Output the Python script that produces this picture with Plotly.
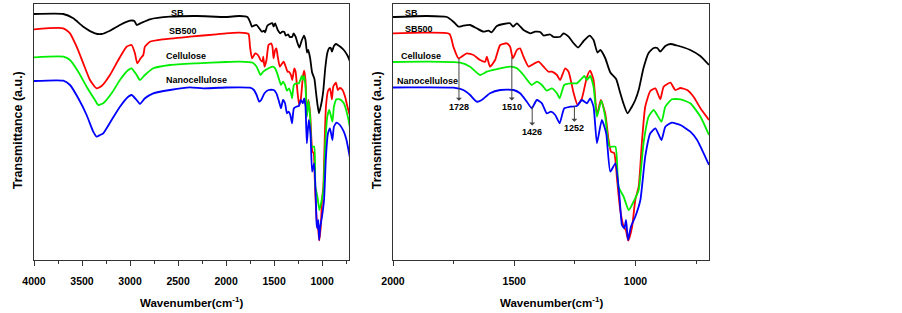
import plotly.graph_objects as go

# ---------------- data (transmittance, arbitrary units) ----------------
sb_wn = [4000, 3695, 3591, 3487, 3365, 3296, 3209, 3105, 3001, 2955, 2931, 2879, 2793, 2585, 2307,
         2000, 1861, 1778, 1751, 1730, 1710, 1682, 1655, 1627, 1606, 1593, 1572, 1544, 1517, 1505,
         1489, 1462, 1434, 1414, 1393, 1379, 1352, 1338, 1310, 1297, 1276, 1256, 1237, 1214, 1189,
         1173, 1157, 1145, 1125, 1104, 1080, 1063, 1049, 1033, 1015, 1001, 987, 967, 946, 925,
         910, 898, 877, 856, 829, 801, 774, 733, 697]
sb_t = [246, 246, 241.7, 233.3, 226.7, 226, 229.3, 235, 239.3, 239, 235, 237.3, 240.7, 243.3, 244,
        243, 244, 243, 238.3, 233.3, 234.3, 235, 231.7, 228.3, 229.3, 227.7, 234, 236, 236.7, 233.3,
        236.7, 230, 226.7, 228.3, 228, 224.5, 225.5, 223, 223.3, 226.7, 223.3, 217, 212.5, 219, 224.3,
        220, 207.5, 210, 202, 187.5, 181, 167, 156, 146.7, 153.3, 160, 170, 192, 207, 212,
        212, 208.3, 214, 216, 214.5, 212.5, 210, 204, 195]

sb500_wn = [4000, 3695, 3625, 3556, 3487, 3417, 3348, 3296, 3209, 3122, 3036, 2984, 2949, 2925, 2890,
            2862, 2845, 2793, 2654, 2377, 2099, 2000, 1861, 1767, 1751, 1730, 1696, 1668, 1641, 1620,
            1613, 1600, 1579, 1558, 1531, 1517, 1506, 1489, 1476, 1462, 1441, 1428, 1400, 1379, 1359,
            1345, 1324, 1311, 1290, 1276, 1255, 1239, 1221, 1200, 1187, 1173, 1159, 1143, 1125, 1111,
            1101, 1088, 1076, 1063, 1049, 1040, 1030, 1014, 1001, 987, 973, 960, 939, 918, 898,
            884, 856, 836, 815, 787, 760, 733, 697]
sb500_t = [230.7, 231.7, 226.7, 213.3, 196.7, 180, 171.7, 174, 185, 200, 213.3, 215, 206.7, 196.7, 201.7,
           205, 213.3, 218.3, 220.7, 223.3, 225.7, 226.7, 227.3, 226, 213.3, 201.7, 206.7, 205, 200, 198.3,
           203.3, 193.3, 200, 215, 216.7, 213.3, 201.7, 210, 211.7, 203.3, 193.3, 195, 198.3, 193.3, 188.3,
           188.3, 185, 180, 191.7, 188.3, 166.7, 155, 161.7, 183.3, 189.3, 180, 145, 160, 146.7, 120,
           108.3, 107, 80, 50, 33.3, 30, 19.5, 33.3, 60, 73.3, 120, 153.3, 169, 171.7, 160.7,
           173.3, 177.3, 170, 172, 170, 163, 152, 140]

cel_wn = [4000, 3695, 3625, 3539, 3452, 3365, 3331, 3279, 3192, 3105, 3019, 2984, 2931, 2897, 2845,
          2758, 2585, 2307, 2000, 1861, 1723, 1682, 1641, 1613, 1558, 1517, 1489, 1462, 1441, 1428,
          1407, 1386, 1366, 1345, 1324, 1313, 1294, 1269, 1242, 1221, 1211, 1200, 1187, 1173, 1159,
          1141, 1125, 1107, 1083, 1070, 1049, 1028, 1008, 987, 967, 946, 925, 893, 877, 850,
          815, 774, 732, 697]
cel_t = [202.7, 203.3, 200, 188.3, 173.3, 160, 155, 156.7, 166.7, 180, 190, 191.7, 185, 180, 185,
         191.7, 195, 196.7, 198, 198.3, 197.3, 193.3, 185, 188.3, 191.7, 193.3, 191.7, 185, 178.3, 175,
         178.3, 175, 169.3, 171.7, 166.7, 161.7, 175, 176.7, 176.7, 181.7, 184, 180, 184, 173.3, 143.3,
         159.3, 143.3, 113.3, 113.3, 73.3, 63.3, 50, 58.3, 70, 116.7, 143.3, 150, 138.3, 153.3, 160.7,
         160.7, 156.7, 143.3, 125]

nano_wn = [4000, 3695, 3625, 3539, 3452, 3383, 3348, 3313, 3279, 3192, 3105, 3019, 2984, 2931, 2897,
           2845, 2758, 2585, 2377, 2238, 2000, 1861, 1751, 1710, 1682, 1655, 1634, 1600, 1558, 1503,
           1476, 1448, 1428, 1407, 1386, 1366, 1349, 1331, 1313, 1294, 1269, 1242, 1221, 1200, 1187,
           1173, 1159, 1139, 1121, 1104, 1083, 1065, 1056, 1046, 1039, 1031, 1019, 1001, 980, 960,
           939, 918, 893, 877, 850, 815, 774, 746, 719, 697]
nano_t = [179, 179.3, 175, 161.7, 145, 128.3, 123.3, 125, 126.7, 140, 153.3, 163.3, 165, 160, 156,
          161.7, 166.7, 170, 172.7, 171.7, 172.5, 172.7, 172.3, 170, 165, 158.3, 160, 166.7, 170, 170,
          166.7, 158.3, 151.7, 160, 156.7, 146.7, 148.3, 145, 136.7, 151.7, 153.3, 154, 160, 156.7, 161.7,
          153.3, 116.7, 140, 126.7, 88.3, 96.7, 60, 35, 31.7, 40, 20, 33.3, 43.3, 60, 103.3,
          126.7, 131.7, 120, 133.3, 137.3, 135, 128.3, 120, 106.7, 95]

series_names = ["SB", "SB500", "Cellulose", "Nanocellulose"]
series_wn = [sb_wn, sb500_wn, cel_wn, nano_wn]
series_t = [sb_t, sb500_t, cel_t, nano_t]
series_colors = ["#000000", "#ff0000", "#00ee00", "#0000ff"]

left_ticks = [4000, 3500, 3000, 2500, 2000, 1500, 1000]
right_ticks = [2000, 1500, 1000]

peak_marks = [1728, 1510, 1426, 1252]

# ---------------- figure ----------------
W, H = 902, 313
fig = go.Figure()

for xa, ya in (("x", "y"), ("x2", "y2")):
    for name, wn, t, col in zip(series_names, series_wn, series_t, series_colors):
        fig.add_trace(go.Scatter(x=wn, y=t, mode="lines", name=name, xaxis=xa, yaxis=ya,
                                 line=dict(color=col, width=1.8, shape="spline", smoothing=0.5),
                                 showlegend=False, hoverinfo="skip"))

FONT = "Liberation Sans, Arial, sans-serif"
axis_common = dict(showgrid=False, zeroline=False, showline=True, linecolor="#333",
                   linewidth=1.2, mirror=True, ticks="outside", ticklen=5, tickcolor="#333",
                   tickfont=dict(family=FONT, size=10.5, color="#000", weight="bold"),
                   ticklabelstandoff=6)
yaxis_common = dict(showgrid=False, zeroline=False, showline=True, linecolor="#333",
                    linewidth=1.2, mirror=True, showticklabels=False, ticks="",
                    range=[0, 256])

fig.update_layout(
    width=W, height=H, margin=dict(l=0, r=0, t=4, b=53, autoexpand=False),
    paper_bgcolor="white", plot_bgcolor="white",
    xaxis=dict(domain=[34 / W, 349 / W], range=[4000, 720], tickvals=left_ticks,
               minor=dict(dtick=250, tick0=0, ticks="outside", ticklen=3, tickcolor="#333"),
               anchor="y", **axis_common),
    xaxis2=dict(domain=[393 / W, 709 / W], range=[2000, 697], tickvals=right_ticks,
                minor=dict(dtick=250, tick0=0, ticks="outside", ticklen=3, tickcolor="#333"),
                anchor="y2", **axis_common),
    yaxis=dict(anchor="x", domain=[0, 1], **yaxis_common),
    yaxis2=dict(anchor="x2", domain=[0, 1], **yaxis_common),
)

ann = []
# axis titles
for xc in ((34 + 349) / 2, (393 + 709) / 2):
    ann.append(dict(xref="paper", yref="paper", x=xc / W, y=0, yshift=-42, yanchor="middle",
                    xanchor="center", showarrow=False,
                    text="<b>Wavenumber(cm<sup>-1</sup>)</b>",
                    font=dict(family=FONT, size=11.5, color="#000")))
for xc in (18.3, 377.3):
    ann.append(dict(xref="paper", yref="paper", x=xc / W, y=0.5, yshift=2, xanchor="center",
                    yanchor="middle", showarrow=False, textangle=-90,
                    text="<b>Transmittance (a.u.)</b>",
                    font=dict(family=FONT, size=12.5, color="#000")))

# series labels
left_lbl = [(2594, 247.3), (2618, 229.3), (2643, 204), (2643, 180)]
right_lbl = [(1959, 247), (1957, 230.7), (1975, 204), (1992, 179.3)]
for (xr, yr), lbls in ((("x", "y"), left_lbl), (("x2", "y2"), right_lbl)):
    for name, (lx, ly) in zip(series_names, lbls):
        ann.append(dict(xref=xr, yref=yr, x=lx, y=ly, xanchor="left", yanchor="middle",
                        showarrow=False, text="<b>%s</b>" % name,
                        font=dict(family=FONT, size=9, color="#000")))

# peak arrows (right panel)
arrow_geom = [(201.7, 152.7), (203, 153), (154, 128), (154, 131.7)]
for pk, (ytop, ylab) in zip(peak_marks, arrow_geom):
    ann.append(dict(xref="x2", yref="y2", x=pk, y=ytop, axref="x2", ayref="y2", ax=pk, ay=ylab,
                    text="<b>%d</b>" % pk, showarrow=True, arrowside="start", arrowhead=2,
                    arrowsize=0.8, arrowwidth=1, arrowcolor="#444",
                    font=dict(family=FONT, size=9, color="#000")))

fig.update_layout(annotations=ann)
fig.write_html("out.html", config={"displayModeBar": False},
               post_script="document.body.style.margin='0px';")
